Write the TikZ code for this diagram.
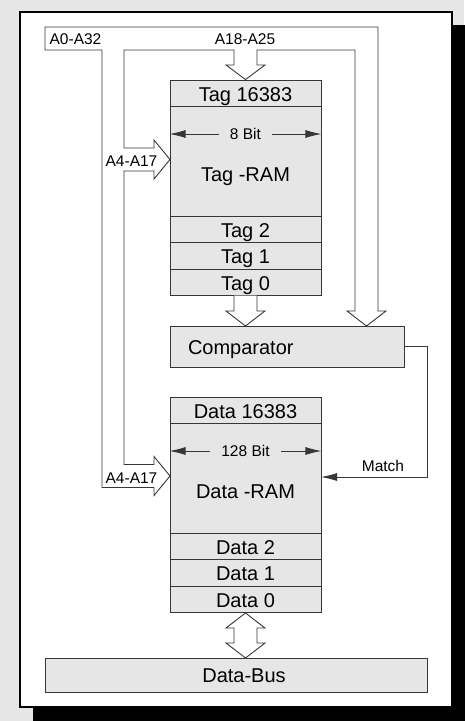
\documentclass[tikz,border=0pt]{standalone}
\usepackage{fontspec}
\setmainfont{Liberation Sans}
\usetikzlibrary{arrows.meta}
\definecolor{cellgray}{RGB}{230,230,230}
\definecolor{linegray}{RGB}{55,55,55}
\newcommand{\cellsize}{\fontsize{20}{24}\selectfont}
\newcommand{\labelsize}{\fontsize{15.5}{18}\selectfont}
\tikzset{
  wire/.style={draw=linegray, line width=0.9pt},
  bus/.style={wire, fill=white, line join=miter},
  cell/.style={wire, fill=cellgray, minimum width=151pt, minimum height=26.5pt,
    inner sep=0pt, font=\cellsize, text height=16pt, text depth=0pt},
  title/.style={inner sep=0pt, font=\cellsize, text height=14.3pt, text depth=0pt},
  tag/.style={inner sep=0pt, font=\labelsize, text height=11.1pt, text depth=0pt},
  width/.style={tag, inner xsep=11pt},
  tip/.style={-{Latex[length=16pt,width=8pt]}}
}
\begin{document}
\begin{tikzpicture}[x=1pt, y=-1pt]
\useasboundingbox (0,0) rectangle (464,721);
\fill[cellgray] (0,0) rectangle (464,721);
\fill[black] (33,25) rectangle (470,730);
\draw[fill=white, line width=1.2pt] (20,12) rectangle (452,707);

\node[cell] (tagtop) at (245.5,93.25) {Tag 16383};
\node[cell, minimum height=109.5pt] (tagram) at (245.5,161.25) {};
\node[cell] (tag2) at (245.5,229.25) {Tag 2};
\node[cell] (tag1) at (245.5,255.75) {Tag 1};
\node[cell] (tag0) at (245.5,282.25) {Tag 0};
\node[title] (tagname) at (245.5,174) {Tag -RAM};
\node[width] (tagbits) at (245.5,134) {8 Bit};

\node[cell, minimum width=234pt, minimum height=41pt, text width=198pt,
  align=left, inner xsep=18pt] (comp) at (287,346.5) {Comparator};

\node[cell] (datatop) at (245.5,410.25) {Data 16383};
\node[cell, minimum height=109.5pt] (dataram) at (245.5,478.25) {};
\node[cell] (data2) at (245.5,546.25) {Data 2};
\node[cell] (data1) at (245.5,572.75) {Data 1};
\node[cell] (data0) at (245.5,599.25) {Data 0};
\node[title] (dataname) at (245.5,491) {Data -RAM};
\node[width] (databits) at (245.5,451) {128 Bit};

\node[cell, minimum width=382pt, minimum height=34pt] (databus) at (236,675) {};
\node[title] (busname) at (244,675) {Data-Bus};

\draw[bus] (45,27) -- (378,27) -- (378,311) -- (386,311) -- (366.5,326)
  -- (347,311) -- (355,311) -- (355,50) -- (257,50) -- (257,65) -- (265,65)
  -- (tagtop.north) -- (226,65) -- (234,65) -- (234,50) -- (124,50)
  -- (124,148) -- (154,148) -- (154,140) -- (170,159.5) -- (154,179)
  -- (154,171) -- (124,171) -- (124,464.5) -- (154,464.5) -- (154,456.5)
  -- (170,476) -- (154,495.5) -- (154,487.5) -- (102,487.5) -- (102,50)
  -- (45,50) -- cycle;
\draw[bus] (234,295.5) -- (234,311) -- (226,311) -- (245.5,326) -- (265,311)
  -- (257,311) -- (257,295.5);
\draw[bus] (data0.south) -- (265,628) -- (257,628) -- (257,643) -- (265,643)
  -- (245.5,658) -- (226,643) -- (234,643) -- (234,628) -- (226,628) -- cycle;

\node[tag] (addrall) at (75.5,38.5) {A0-A32};
\node[tag] (addrtag) at (245,38.5) {A18-A25};
\node[tag] (addrrow1) at (131.5,160.5) {A4-A17};
\node[tag] (addrrow2) at (131.5,478) {A4-A17};

\draw[wire, tip] (tagbits.west) -- (tagbits.west -| tagram.west);
\draw[wire, tip] (tagbits.east) -- (tagbits.east -| tagram.east);
\draw[wire, tip] (databits.west) -- (databits.west -| dataram.west);
\draw[wire, tip] (databits.east) -- (databits.east -| dataram.east);

\coordinate (matchin) at (321,477);
\node[tag] (match) at (383,465.5) {Match};
\draw[wire, tip] (comp.east) -- ++(23,0) |- (matchin);
\end{tikzpicture}
\end{document}
